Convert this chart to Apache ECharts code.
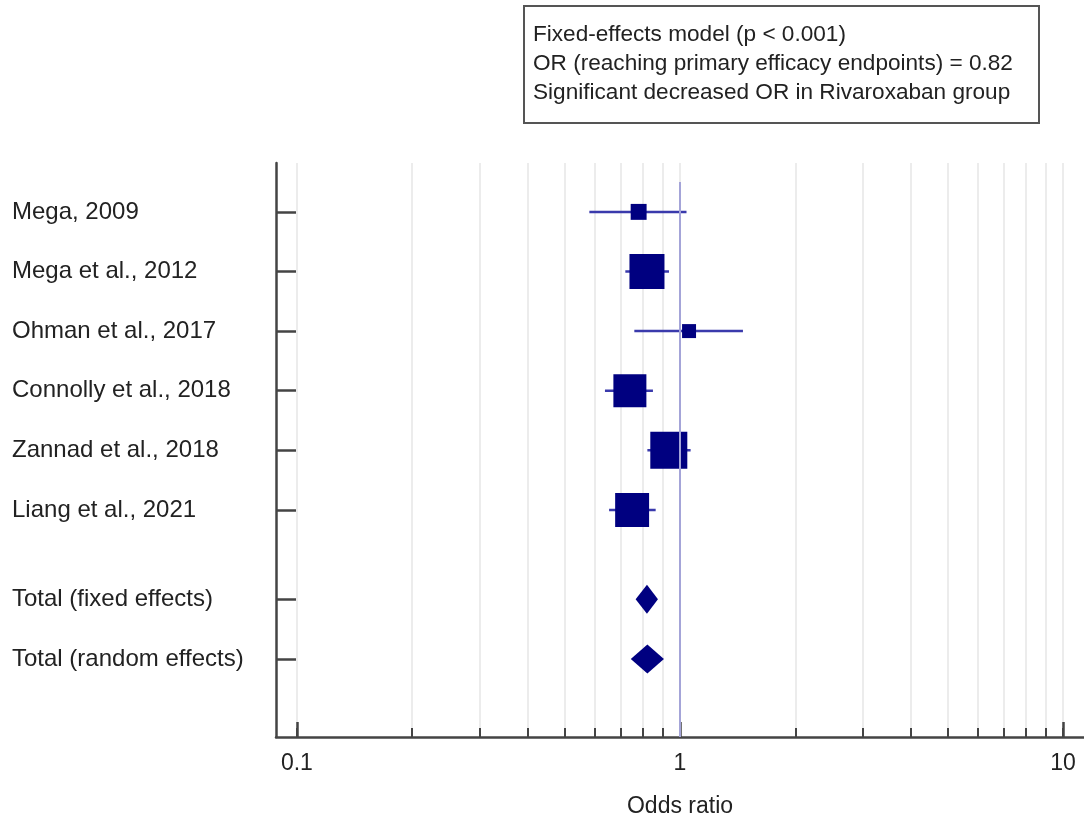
<!DOCTYPE html>
<html><head><meta charset="utf-8">
<script src="https://cdn.jsdelivr.net/npm/echarts@6/dist/echarts.min.js"></script>
<style>html,body{margin:0;padding:0;background:#fff}#c{width:1084px;height:818px}</style>
</head><body><div id="c"></div>
<script>
// ---- data ----
var studies = ['Mega, 2009','Mega et al., 2012','Ohman et al., 2017','Connolly et al., 2018','Zannad et al., 2018','Liang et al., 2021'];
var orEst   = [0.78, 0.82, 1.056, 0.74, 0.935, 0.75];
var ciLow   = [0.58, 0.72, 0.76, 0.637, 0.822, 0.653];
var ciHigh  = [1.04, 0.936, 1.46, 0.85, 1.066, 0.864];
var weights = [4.8, 23.2, 3.7, 20.6, 25.9, 21.8];
var pooledLabels = ['Total (fixed effects)','Total (random effects)'];
var pooledEst  = [0.82, 0.822];
var pooledLow  = [0.766, 0.744];
var pooledHigh = [0.876, 0.908];
var xMinorTicks = [0.1,0.2,0.3,0.4,0.5,0.6,0.7,0.8,0.9,1,2,3,4,5,6,7,8,9,10];
var xMajorTicks = [0.1,1,10];
var legendLines = ['Fixed-effects model (p < 0.001)','OR (reaching primary efficacy endpoints) = 0.82','Significant decreased OR in Rivaroxaban group'];

// row layout (positions on the y axis)
var studyRows = studies.map(function(_,i){return i;});
var pooledRows = [6.5, 7.5];
var allRows = studyRows.concat(pooledRows);
var allLabels = studies.concat(pooledLabels);

var chart = echarts.init(document.getElementById('c'));
var FONT = 'Liberation Sans, Arial, sans-serif';
var TXT = '#222';
var AX = '#444';

var studyData = studies.map(function(s,i){return [orEst[i], studyRows[i], ciLow[i], ciHigh[i], weights[i]];});
var pooledData = pooledLabels.map(function(s,i){return [pooledEst[i], pooledRows[i], pooledLow[i], pooledHigh[i]];});

function labelFor(v){
  for (var i=0;i<allRows.length;i++){ if (Math.abs(allRows[i]-v)<1e-6) return allLabels[i]; }
  return '';
}

chart.setOption({
  animation:false,
  backgroundColor:'#fff',
  textStyle:{fontFamily:FONT},
  grid:{left:276, right:0, top:163, bottom:81, containLabel:false, outerBoundsMode:'none'},
  xAxis:[{
    type:'log', logBase:10, min:0.0882, max:11.34, position:'bottom', offset:0,
    axisLine:{show:true, onZero:false, lineStyle:{color:AX, width:2.5}},
    axisTick:{show:true, inside:true, length:9, customValues:xMinorTicks, lineStyle:{color:AX, width:2}},
    axisLabel:{show:false},
    minorTick:{show:false},
    splitLine:{show:true, lineStyle:{color:'#e6e6e6', width:1.5}},
    name:'Odds ratio', nameLocation:'middle', nameGap:58,
    nameTextStyle:{color:TXT, fontSize:23, fontFamily:FONT}
  },{
    type:'log', logBase:10, min:0.0882, max:11.34, position:'bottom', offset:0,
    axisLine:{show:false, onZero:false},
    axisTick:{show:true, inside:true, length:15, customValues:xMajorTicks, lineStyle:{color:AX, width:2.5}},
    axisLabel:{show:true, customValues:xMajorTicks, margin:15, color:TXT, fontSize:23, fontFamily:FONT,
      formatter:function(v){return String(v);}},
    splitLine:{show:false}
  }],
  yAxis:{
    type:'value', inverse:true, min:-0.82, max:8.81,
    axisLine:{show:true, onZero:false, lineStyle:{color:AX, width:2.5}},
    axisTick:{show:true, inside:true, length:20, customValues:allRows, lineStyle:{color:AX, width:2.5}},
    axisLabel:{show:true, customValues:allRows, align:'left', margin:264, color:TXT, fontSize:24, fontFamily:FONT,
      formatter:function(v){return labelFor(v);}},
    splitLine:{show:false}
  },
  series:[{
    type:'custom', name:'studies', xAxisIndex:0, yAxisIndex:0,
    data:studyData, clip:false,
    renderItem:function(params, api){
      var c = api.coord([api.value(0), api.value(1)]);
      var l = api.coord([api.value(2), api.value(1)]);
      var r = api.coord([api.value(3), api.value(1)]);
      var s = Math.sqrt(api.value(4))*7.27;
      return {type:'group', children:[
        {type:'line', shape:{x1:l[0], y1:l[1], x2:r[0], y2:r[1]}, style:{stroke:'#3a3aac', lineWidth:2.5}},
        {type:'rect', shape:{x:c[0]-s/2, y:c[1]-s/2, width:s, height:s}, style:{fill:'#000080'}}
      ]};
    },
    markLine:{silent:true, symbol:'none', label:{show:false},
      lineStyle:{color:'#a4a4d8', width:2, type:'solid'},
      data:[[{coord:[1,-0.5]},{coord:[1,8.81]}]]}
  },{
    type:'custom', name:'pooled', xAxisIndex:0, yAxisIndex:0,
    data:pooledData,
    renderItem:function(params, api){
      var c = api.coord([api.value(0), api.value(1)]);
      var l = api.coord([api.value(2), api.value(1)]);
      var r = api.coord([api.value(3), api.value(1)]);
      var h = 14.5;
      return {type:'polygon', shape:{points:[[l[0],c[1]],[c[0],c[1]-h],[r[0],c[1]],[c[0],c[1]+h]]}, style:{fill:'#000080'}};
    }
  }],
  graphic:[
    {type:'rect', left:523, top:5, shape:{width:515, height:117}, style:{fill:'#fff', stroke:'#555', lineWidth:2}},
    {type:'text', left:533, top:20, style:{text:legendLines.join('\n'), fill:TXT, font:'22.6px Liberation Sans, Arial, sans-serif', lineHeight:29}}
  ]
});
</script></body></html>
